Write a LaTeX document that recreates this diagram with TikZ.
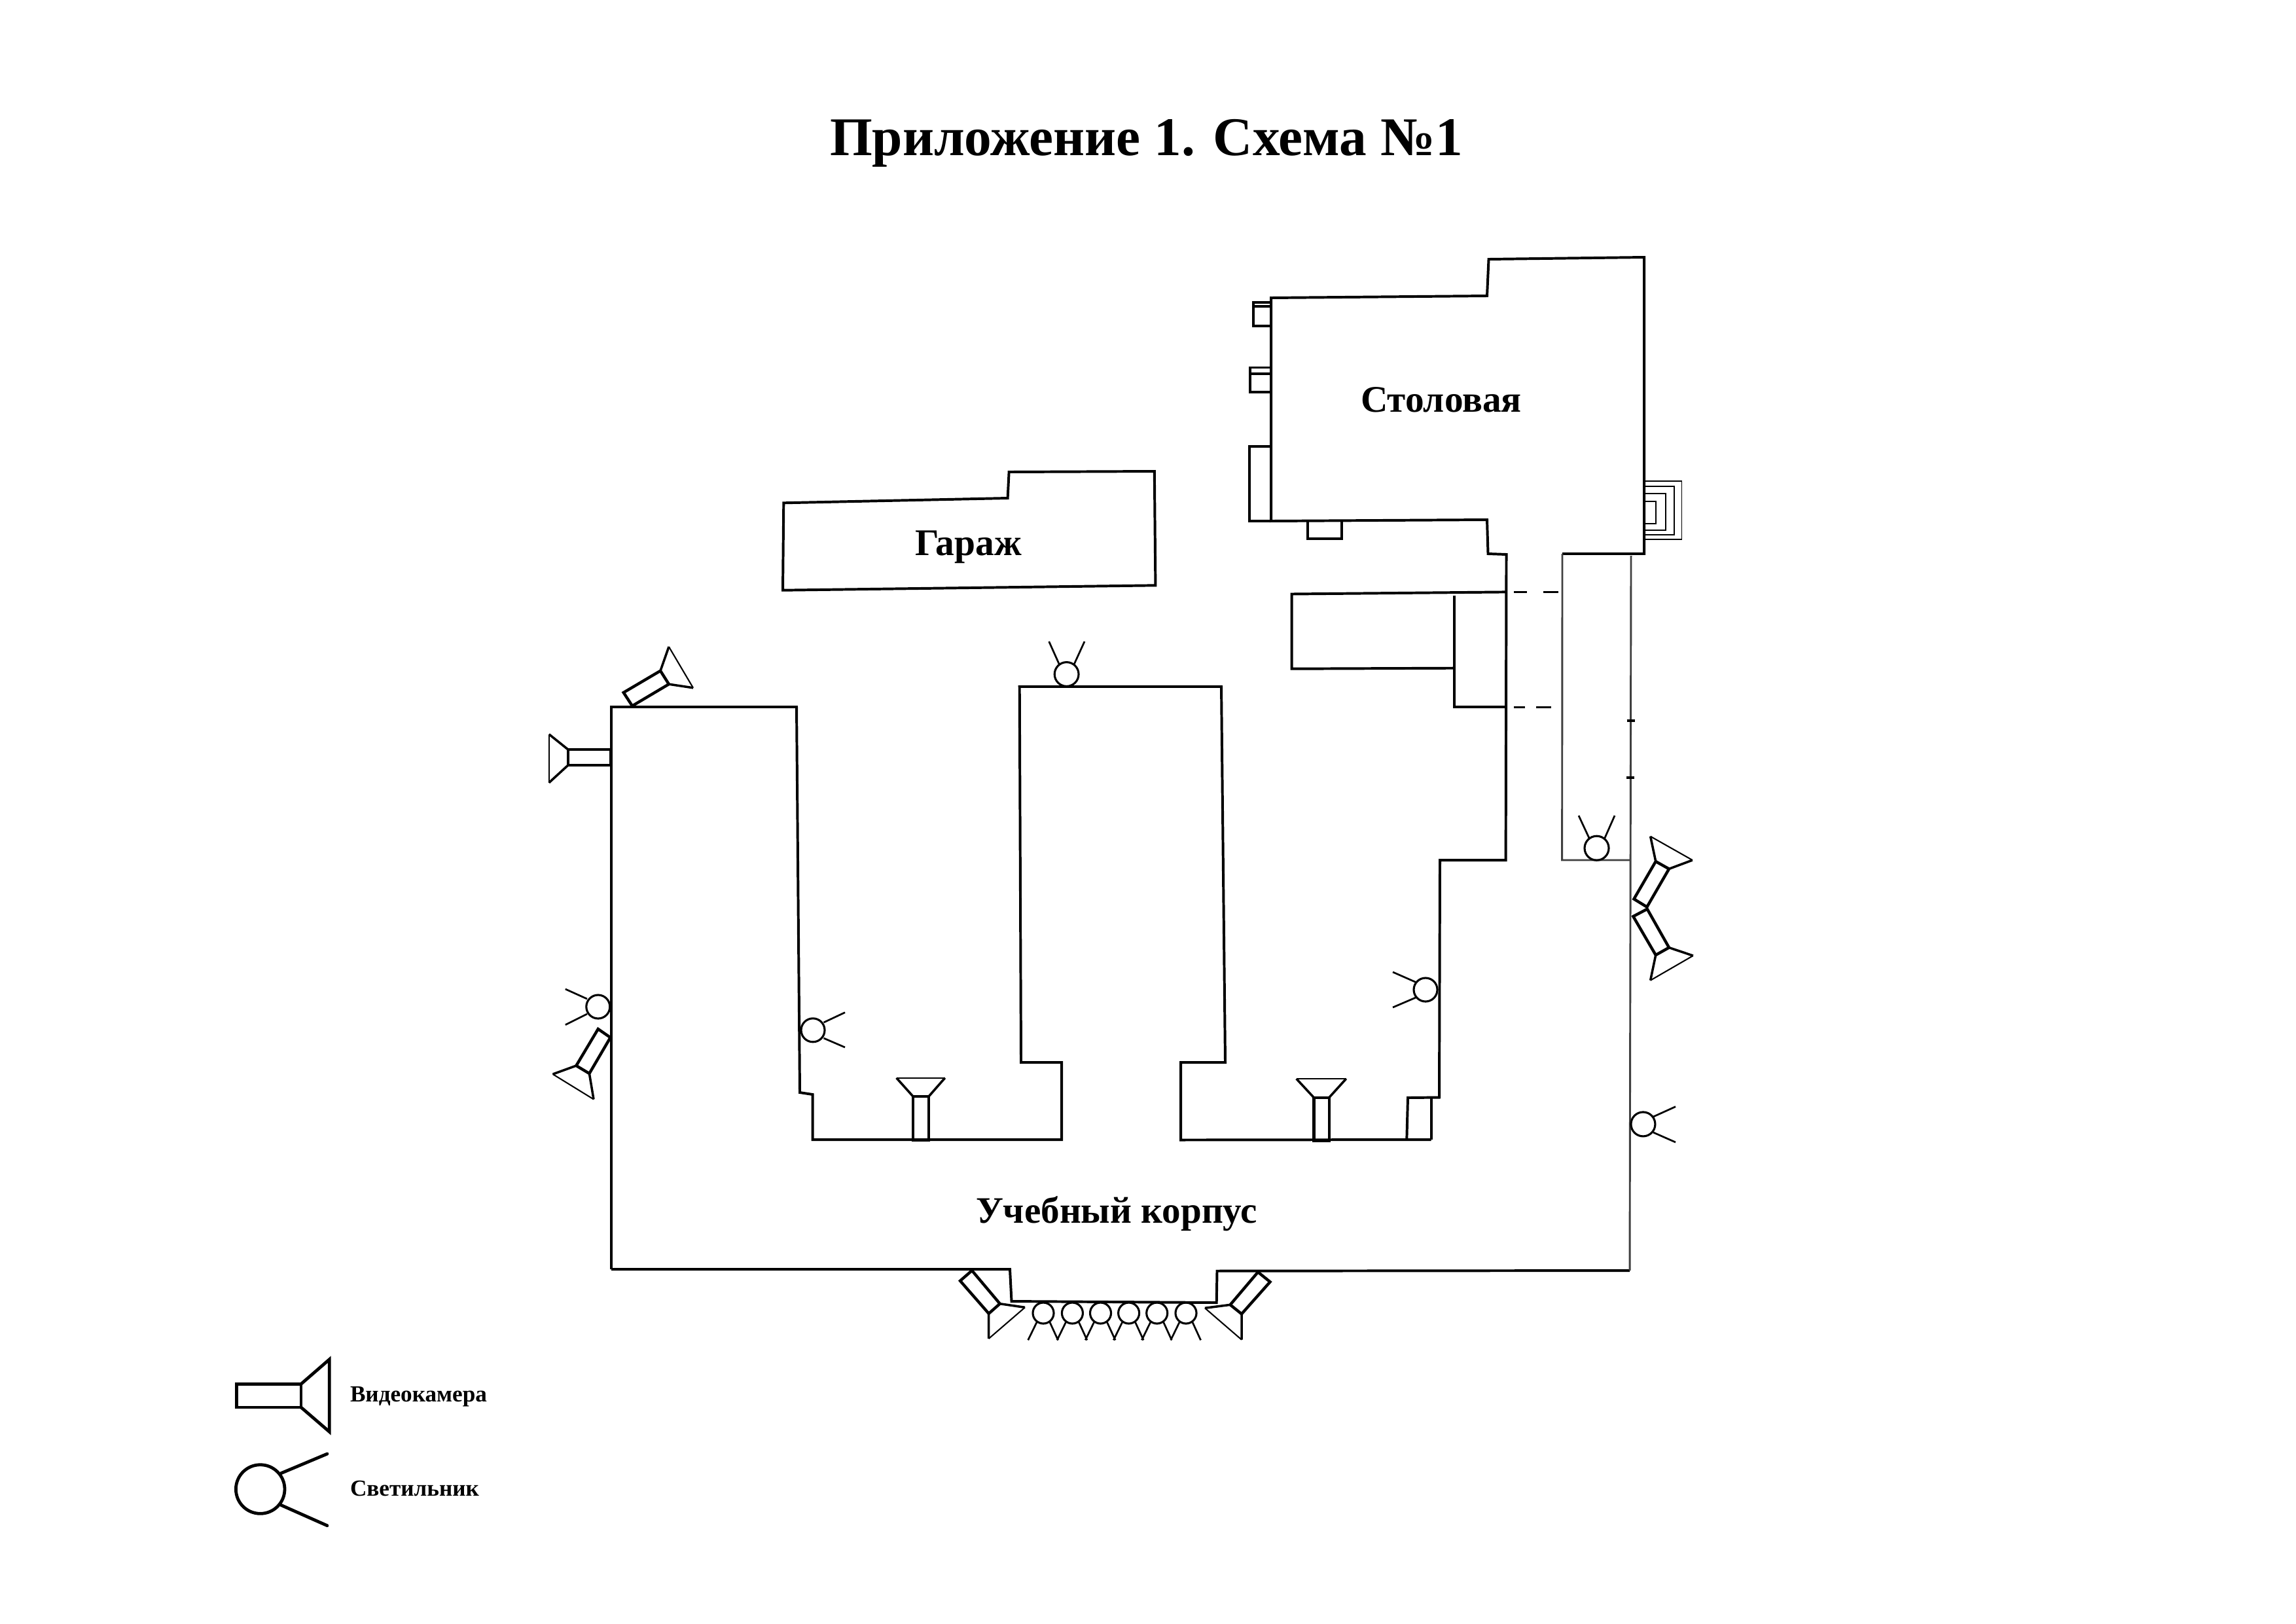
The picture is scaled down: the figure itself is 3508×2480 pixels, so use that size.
\documentclass[tikz,border=0pt]{standalone}
\usepackage{fontspec}
\setmainfont{Liberation Serif}
\tikzset{
  wall/.style={line width=0.95pt,line join=miter,black},
  thinwall/.style={line width=0.7pt,black!75},
  detail/.style={line width=0.75pt,black},
  tick/.style={line width=1pt,black},
  hair/.style={line width=0.45pt,black},
  cambody/.style={line width=1.05pt,line join=miter},
  camlens/.style={line width=0.85pt,line join=miter},
  camfar/.style={line width=0.5pt,line join=miter},
  lampbody/.style={line width=0.75pt},
  lampray/.style={line width=0.65pt},
  legendcam/.style={line width=1.15pt,line join=miter},
  legendlamp/.style={line width=1.15pt},
  label/.style={font=\bfseries,anchor=base west,inner sep=0pt,outer sep=0pt}
}
% a,b wall end; c,d lens end; e,f lens tips (e beside c, f beside d)
\newcommand{\camdraw}[6]{%
  \draw[cambody] #1 -- #2 -- #3 -- #4 -- cycle;
  \draw[camlens] #3 -- #5 #4 -- #6;
  \draw[camfar] #5 -- #6;
}
% centre, radius, ray starts and ends
\newcommand{\lampdraw}[6]{%
  \draw[lampbody] #1 circle[radius=#2];
  \draw[lampray] #3 -- #4 #5 -- #6;
}
\begin{document}
\begin{tikzpicture}[x=0.24pt,y=-0.24pt]
\useasboundingbox (0,0) rectangle (3508,2480);
\fill[white] (0,0) rectangle (3508,2480);

% texts
\node[label,font=\bfseries\fontsize{20}{24}\selectfont] (title) at (1268,237) {Приложение 1. Схема №1};
\node[label,font=\bfseries\fontsize{13.75}{16}\selectfont] (canteen) at (2079,629) {Столовая};
\node[label,font=\bfseries\fontsize{13.8}{16}\selectfont] (garage) at (1398,848) {Гараж};
\node[label,font=\bfseries\fontsize{13.7}{16}\selectfont] (school) at (1491,1868) {Учебный корпус};
\node[label,font=\bfseries\fontsize{8.45}{10}\selectfont] (legcam) at (535,2141) {Видеокамера};
\node[label,font=\bfseries\fontsize{8.45}{10}\selectfont] (leglamp) at (535,2285) {Светильник};

% main building
\draw[wall] (934,1939) -- (1543,1939) -- (1545.5,1988) -- (1858.7,1990) -- (1859.5,1941.7) -- (2490,1941);
\draw[wall] (934,1939) -- (934,1080) -- (1217,1080) -- (1222,1669) -- (1241.5,1672) -- (1241.5,1741) -- (1622,1741) -- (1622,1623) -- (1560,1623) -- (1557.7,1049) -- (1866,1049) -- (1872,1623) -- (1804,1623) -- (1804,1741.5) -- (2186.7,1741);
\draw[wall] (2149.3,1741) -- (2151,1677) -- (2199,1676.5) -- (2200,1314) -- (2300.6,1314) -- (2301.5,847) -- (2273.5,846) -- (2272,794) -- (1942,796) -- (1942,455) -- (2272,452) -- (2274.5,396) -- (2512,393) -- (2512,846) -- (2387,846);
\draw[wall] (2186.7,1741) -- (2186.7,1677);
\draw[thinwall] (2387,846) -- (2386.6,1314) -- (2491,1314);
\draw[thinwall] (2492,849) -- (2490,1941);
\draw[tick] (2485.7,1101.3) -- (2498,1101.3);
\draw[tick] (2485,1187.7) -- (2497.3,1187.7);

% canteen annexes
\draw[detail] (1942,462) -- (1915,462) -- (1915,498) -- (1942,498);
\draw[detail] (1915,468) -- (1942,468);
\draw[detail] (1942,561.5) -- (1910,561.5) -- (1910,599) -- (1942,599);
\draw[detail] (1910,571) -- (1942,571);
\draw[detail] (1942,682) -- (1909,682) -- (1909,796) -- (1942,796);
\draw[detail] (1998,797) -- (1998,823) -- (2050,823) -- (2050,797);
% stairs
\draw[hair] (2512,735) -- (2569.4,735) -- (2569.4,824) -- (2512,824);
\draw[hair] (2512,742.6) -- (2558,742.6) -- (2558,816.6) -- (2512,816.6);
\draw[hair] (2512,754.4) -- (2545,754.4) -- (2545,810) -- (2512,810);
\draw[hair] (2512,765.6) -- (2529.6,765.6) -- (2529.6,800) -- (2512,800);
% annex
\draw[wall] (2301.5,904.4) -- (1973.5,907.5) -- (1973.5,1021.7) -- (2222,1020.7);
\draw[wall] (2222.4,909.5) -- (2222.4,1080.4) -- (2301.5,1080.4);
\draw[detail] (2313,904.4) -- (2333,904.4) (2357.7,904.4) -- (2380.6,904.4);
\draw[detail] (2313,1080.4) -- (2329.6,1080.4) (2347,1080.4) -- (2370,1080.4);

% garage
\draw[wall] (1197.3,768.3) -- (1539.6,761) -- (1541.6,721) -- (1763.8,720) -- (1765.4,894.3) -- (1196,901.7) -- cycle;

% cameras
\camdraw{(952.7,1058)}{(966,1078.4)}{(1021.9,1045.2)}{(1009,1024.8)}{(1059,1050.8)}{(1021.9,988)}
\camdraw{(933,1145)}{(933,1169)}{(867.9,1169)}{(867.9,1145)}{(838.8,1195.7)}{(838.8,1121.7)}
\camdraw{(913.8,1572)}{(932.6,1585)}{(900.4,1640)}{(880.4,1628)}{(907,1679.4)}{(844.6,1641)}
\camdraw{(1395,1741.7)}{(1419,1741.7)}{(1419,1675)}{(1395,1675)}{(1443.8,1646.7)}{(1369.6,1646.7)}
\camdraw{(2007.3,1742.7)}{(2030.7,1742.7)}{(2030.7,1676.7)}{(2007.3,1676.7)}{(2056.7,1648)}{(1980.7,1648)}
\camdraw{(2496.4,1373.4)}{(2516.3,1385.6)}{(2550,1327.4)}{(2529.7,1316)}{(2585.8,1314)}{(2521.6,1277.7)}
\camdraw{(2495.3,1400)}{(2516.7,1388.7)}{(2550,1447.6)}{(2529.7,1459)}{(2586.8,1460)}{(2521.6,1497.7)}
\camdraw{(1485,1941)}{(1467,1956.7)}{(1510.7,2006.7)}{(1527.7,1991.7)}{(1510.7,2045)}{(1566,1997.3)}
\camdraw{(1922,1943.3)}{(1940.5,1958.3)}{(1897,2007.3)}{(1879.6,1993.3)}{(1897,2046.7)}{(1840.9,1998.3)}

% lamps
\lampdraw{(913.8,1538)}{18}{(897,1526)}{(863.8,1511)}{(897,1549)}{(863.8,1565.6)}
\lampdraw{(1242,1573.8)}{18}{(1258.5,1562)}{(1291,1546.7)}{(1258.5,1586)}{(1291,1600)}
\lampdraw{(1629.6,1030)}{18.4}{(1618.4,1015)}{(1602.7,980)}{(1641,1015)}{(1657,980)}
\lampdraw{(2178,1512)}{18}{(2163,1500.4)}{(2128,1485)}{(2163,1524)}{(2128,1539)}
\lampdraw{(2439.5,1295.7)}{18.5}{(2428,1280.4)}{(2412,1246)}{(2451.8,1280.4)}{(2467,1246)}
\lampdraw{(2510.4,1717.4)}{18.5}{(2526,1706)}{(2560,1690.6)}{(2526,1730)}{(2560,1745)}
\foreach \cx in {1594,1638.4,1681.5,1724.6,1767.7,1812}{
  \lampdraw{(\cx,2006)}{16}{(\cx-10,2020)}{(\cx-23.3,2047.3)}{(\cx+10,2020)}{(\cx+22.5,2047.3)}
}

% legend
\draw[legendcam] (361.7,2114.3) rectangle (460,2150);
\draw[legendcam] (460,2114.3) -- (503.3,2076.7) -- (503.3,2187.3) -- (460,2150);
\draw[legendlamp] (397.7,2275) circle[radius=37.3];
\draw[legendlamp,line cap=round] (429.3,2250.7) -- (500,2221) (429.3,2299.3) -- (500,2330.7);
\end{tikzpicture}
\end{document}
